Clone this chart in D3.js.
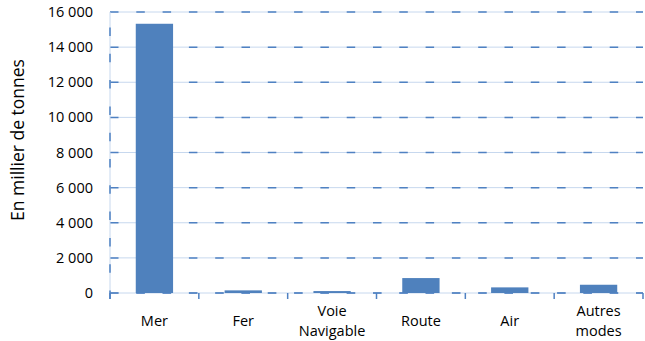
<!DOCTYPE html>
<html>
<head>
<meta charset="utf-8">
<script src="https://cdn.jsdelivr.net/npm/d3@7"></script>
<style>
  body { margin: 0; background: #fff; }
  text { font-family: "Open Sans", sans-serif; fill: #000; }
</style>
</head>
<body>
<div id="chart"></div>
<script>
const categories = ["Mer", "Fer", "Voie\nNavigable", "Route", "Air", "Autres\nmodes"];
const values = [15330, 150, 110, 850, 320, 470];
const yTicks = [0, 2000, 4000, 6000, 8000, 10000, 12000, 14000, 16000];

const W = 645, H = 341;
const margin = { top: 12, right: 2, bottom: 48, left: 110 };
const width = W - margin.left - margin.right;
const height = 293 - margin.top;

const svg = d3.select("#chart").append("svg")
    .attr("width", W)
    .attr("height", H);

const g = svg.append("g")
    .attr("transform", "translate(" + margin.left + "," + margin.top + ")");

const x = d3.scaleBand()
    .domain(categories)
    .range([0, width])
    .paddingInner(0.58)
    .paddingOuter(0.29);

const y = d3.scaleLinear()
    .domain([0, 16000])
    .range([height, 0]);

const light = "#c7d8ee";
const dark = "#4f81c2";
const dash = "8.5,17.8";

// gridlines: light solid line with darker dashes on top
yTicks.forEach(function(t) {
    g.append("line")
        .attr("x1", 0).attr("x2", width)
        .attr("y1", y(t)).attr("y2", y(t))
        .attr("stroke", light).attr("stroke-width", 1);
    g.append("line")
        .attr("x1", 0).attr("x2", width)
        .attr("y1", y(t)).attr("y2", y(t))
        .attr("stroke", dark).attr("stroke-width", 1.5)
        .attr("stroke-dasharray", dash);
});

// left axis line
g.append("line")
    .attr("x1", 0).attr("x2", 0)
    .attr("y1", 0).attr("y2", height)
    .attr("stroke", light);
g.append("line")
    .attr("x1", 0).attr("x2", 0)
    .attr("y1", height + 6).attr("y2", 0)
    .attr("stroke", dark).attr("stroke-width", 1.5)
    .attr("stroke-dasharray", dash);

// bars
g.selectAll(".bar")
    .data(categories)
    .enter().append("rect")
    .attr("class", "bar")
    .attr("x", d => x(d))
    .attr("width", x.bandwidth())
    .attr("y", (d, i) => y(values[i]))
    .attr("height", (d, i) => height - y(values[i]))
    .attr("fill", "#4f81bd");

// redraw the dashed baseline over the bars
g.append("line")
    .attr("x1", 0).attr("x2", width)
    .attr("y1", height).attr("y2", height)
    .attr("stroke", dark).attr("stroke-width", 1.5)
    .attr("stroke-dasharray", dash)
    .attr("opacity", 0.6);

// category boundary ticks
const step = x.step();
d3.range(0, categories.length + 1).forEach(function(i) {
    g.append("line")
        .attr("x1", i * step).attr("x2", i * step)
        .attr("y1", height).attr("y2", height + 6)
        .attr("stroke", dark).attr("stroke-width", 1.5);
});

// y tick labels
g.selectAll(".ytick")
    .data(yTicks)
    .enter().append("text")
    .attr("class", "ytick")
    .attr("x", -17)
    .attr("y", d => y(d))
    .attr("dy", "0.35em")
    .attr("text-anchor", "end")
    .style("font-size", "14.5px")
    .text(d => d3.format(",")(d).replace(/,/g, " "));

// x labels, one text per line
const lineGap = 20;
categories.forEach(function(c) {
    const lines = c.split("\n");
    const cx = x(c) + x.bandwidth() / 2;
    lines.forEach(function(l, i) {
        g.append("text")
            .attr("x", cx)
            .attr("y", height + 28 + (i - (lines.length - 1) / 2) * lineGap)
            .attr("dy", "0.35em")
            .attr("text-anchor", "middle")
            .style("font-size", "14.5px")
            .text(l);
    });
});

svg.append("text")
    .attr("transform", "rotate(-90)")
    .attr("x", -140)
    .attr("y", 24)
    .attr("text-anchor", "middle")
    .style("font-size", "17.5px")
    .text("En millier de tonnes");
</script>
</body>
</html>
